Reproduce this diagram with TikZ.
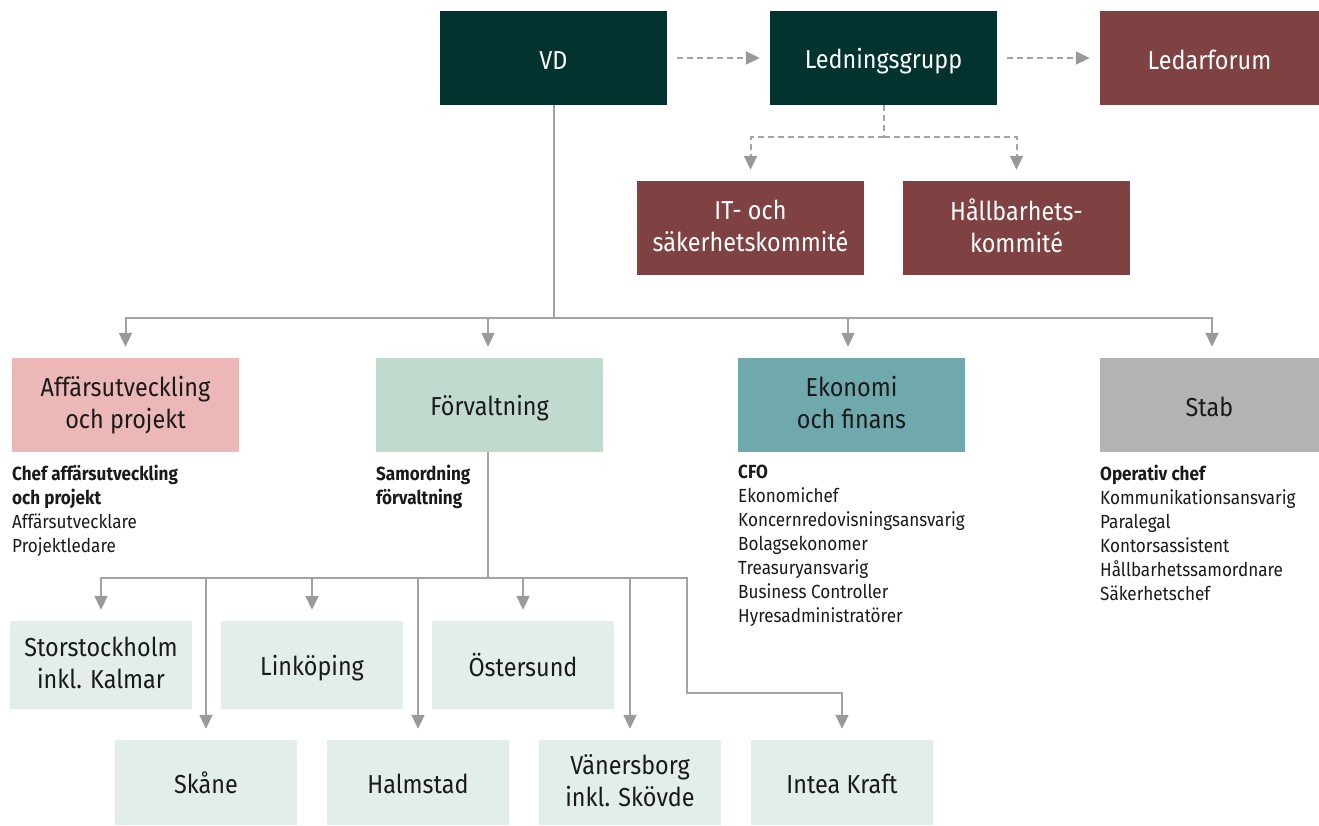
\documentclass[tikz,border=0pt]{standalone}
\usepackage{fontspec}
\setmainfont{Fira Sans}[FakeStretch=0.9]
\usetikzlibrary{arrows.meta}
\definecolor{dgreen}{HTML}{03332F}
\definecolor{dred}{HTML}{7F4141}
\definecolor{pinkc}{HTML}{EBB8B7}
\definecolor{lgreen}{HTML}{C0DBCD}
\definecolor{teal}{HTML}{70A9AD}
\definecolor{grayc}{HTML}{B3B3B3}
\definecolor{pale}{HTML}{E3EDE9}
\definecolor{linec}{HTML}{A3A3A3}
\definecolor{tipc}{HTML}{999999}
\definecolor{txt}{HTML}{1A1A1A}
\newcommand\topstrut{\rule{0pt}{27.4pt}}
\newcommand\botstrut{\rule[-4.6pt]{0pt}{4.6pt}}
\tikzset{
  box/.style={rectangle, inner sep=0pt, align=center, font=\fontsize{26}{32}\selectfont,
    execute at begin node=\topstrut, execute at end node=\botstrut},
  topbox/.style={box, minimum width=227pt, minimum height=94pt},
  darkbox/.style={topbox, fill=dgreen, text=white},
  redbox/.style={topbox, fill=dred, text=white},
  unitbox/.style={topbox, text=txt},
  regbox/.style={box, minimum width=182pt, minimum height=88pt, fill=pale, text=txt},
  conn/.style={draw=linec, line width=2pt},
  arr/.style={conn, -{Triangle[length=14pt,width=13pt,color=tipc]}, shorten >=11pt},
  darr/.style={arr, dash pattern=on 6pt off 4pt},
  dline/.style={conn, dash pattern=on 6pt off 4pt},
  list/.style={anchor=north west, inner sep=0pt, align=left, text=txt, font=\fontsize{19}{24}\selectfont}
}
\begin{document}
\begin{tikzpicture}[x=1pt,y=-1pt]
\useasboundingbox (0,0) rectangle (1319,825);
% top row
\node[darkbox] (vd) at (553.5,58) {VD};
\node[darkbox] (led) at (883.5,58) {Ledningsgrupp};
\node[redbox, minimum width=219pt] (forum) at (1209.5,58) {Ledarforum};
\node[redbox] (it) at (750.5,228) {IT- och\\säkerhetskommité};
\node[redbox] (hall) at (1016.5,228) {Hållbarhets-\\kommité};
% units
\node[unitbox, fill=pinkc] (aff) at (125.5,405) {Affärsutveckling\\och projekt};
\node[unitbox, fill=lgreen] (forv) at (489.5,405) {Förvaltning};
\node[unitbox, fill=teal] (eko) at (851.5,405) {Ekonomi\\och finans};
\node[unitbox, fill=grayc, minimum width=219pt] (stab) at (1209.5,405) {Stab};
% lists
\node[list] (laff) at (12,465) {\textbf{Chef affärsutveckling}\\\textbf{och projekt}\\Affärsutvecklare\\Projektledare};
\node[list] (lforv) at (376,465) {\textbf{Samordning}\\\textbf{förvaltning}};
\node[list] (leko) at (738,465) {\textbf{CFO}\\Ekonomichef\\Koncernredovisningsansvarig\\Bolagsekonomer\\Treasuryansvarig\\Business Controller\\Hyresadministratörer};
\node[list] (lstab) at (1100,465) {\textbf{Operativ chef}\\Kommunikationsansvarig\\Paralegal\\Kontorsassistent\\Hållbarhetssamordnare\\Säkerhetschef};
% regions
\node[regbox] (sto) at (101,665) {Storstockholm\\inkl. Kalmar};
\node[regbox] (lin) at (312,665) {Linköping};
\node[regbox] (ost) at (523,665) {Östersund};
\node[regbox, minimum height=85pt] (ska) at (206,782.5) {Skåne};
\node[regbox, minimum height=85pt] (hal) at (418,782.5) {Halmstad};
\node[regbox, minimum height=85pt] (van) at (630,782.5) {Vänersborg\\inkl. Skövde};
\node[regbox, minimum height=85pt] (int) at (842,782.5) {Intea Kraft};
% coordinates
\coordinate (hub) at (553.5,318);
\coordinate (lhub) at (883.5,137);
\coordinate (fhub) at (488,578);
\coordinate (kbend) at (687,693);
% dashed connectors
\draw[darr, shorten <=10pt, shorten >=10pt] (vd.east) -- (led.west);
\draw[darr, shorten <=10pt, shorten >=10pt] (led.east) -- (forum.west);
\draw[dline] (led.south) -- (lhub);
\draw[darr] (lhub) -| (it.north);
\draw[darr] (lhub) -| (hall.north);
% solid tree
\draw[conn] (vd.south) -- (hub);
\draw[arr] (hub) -| (aff.north);
\draw[arr] (hub) -| (forv.north -| 488,0);
\draw[arr] (hub) -| (eko.north -| 848,0);
\draw[arr] (hub) -| (stab.north -| 1212,0);
\draw[conn] (forv.south -| fhub) -- (fhub);
\draw[arr] (fhub) -| (sto.north);
\draw[arr] (fhub) -| (ska.north);
\draw[arr] (fhub) -| (lin.north);
\draw[arr] (fhub) -| (hal.north);
\draw[arr] (fhub) -| (ost.north);
\draw[arr] (fhub) -| (van.north);
\draw[arr] (fhub) -| (kbend) -| (int.north);
\end{tikzpicture}
\end{document}
